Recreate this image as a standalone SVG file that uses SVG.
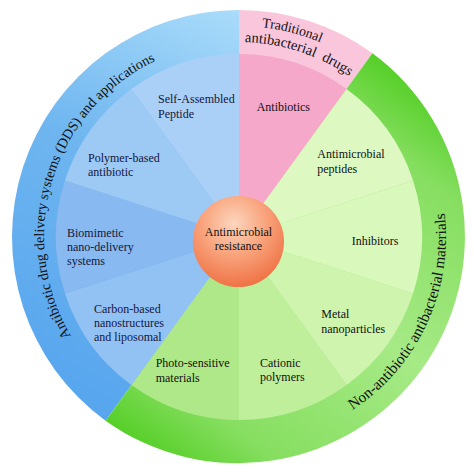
<svg xmlns="http://www.w3.org/2000/svg" xmlns:xlink="http://www.w3.org/1999/xlink" width="474" height="475" viewBox="0 0 474 475">
  <style>
    .lbl { font-family: "Liberation Serif", "Times New Roman", serif; font-size: 12px; fill: #111; }
    .blbl { font-family: "Liberation Serif", "Times New Roman", serif; font-size: 12px; fill: #16163a; }
    .arc { font-family: "Liberation Serif", "Times New Roman", serif; fill: #111; }
    .arcB { font-family: "Liberation Serif", "Times New Roman", serif; fill: #111; font-size: 14.2px; }
    .arcG { font-family: "Liberation Serif", "Times New Roman", serif; fill: #111; font-size: 15.3px; }
    .ctr { font-family: "Liberation Serif", "Times New Roman", serif; font-size: 12px; fill: #111; text-anchor: middle; }
  </style>
  <defs>
    <linearGradient id="gBlue" gradientUnits="userSpaceOnUse" x1="239" y1="10" x2="60" y2="380">
      <stop offset="0" stop-color="#aadcfa"/>
      <stop offset="0.45" stop-color="#6fb6f0"/>
      <stop offset="1" stop-color="#58a6ee"/>
    </linearGradient>
    <linearGradient id="gGreen" gradientUnits="userSpaceOnUse" x1="372" y1="53" x2="106" y2="421">
      <stop offset="0" stop-color="#56cf28"/>
      <stop offset="0.15" stop-color="#86de60"/>
      <stop offset="0.5" stop-color="#a6ea86"/>
      <stop offset="0.85" stop-color="#86de60"/>
      <stop offset="1" stop-color="#56cf28"/>
    </linearGradient>
    <radialGradient id="gCenter" cx="0.45" cy="0.3" r="0.75">
      <stop offset="0" stop-color="#fcd6bf"/>
      <stop offset="0.45" stop-color="#f9a57e"/>
      <stop offset="1" stop-color="#ee6c3e"/>
    </radialGradient>
    <path id="pBlue" d="M 71.0 335.96 A 195 195 0 0 1 155.05 61.0" fill="none"/>
    <path id="pGreen" d="M 352.6 410.0 A 207 207 0 0 0 444.5 212.1" fill="none"/>
    <path id="pTrad" d="M 261.8 27.2 A 211 211 0 0 1 320.8 42.5" fill="none"/>
    <path id="pAnti" d="M 244.8 42.1 A 195 195 0 0 1 352.2 78.25" fill="none"/>
  </defs>

  <!-- Outer ring -->
  <g id="ring-dds">
    <path d="M 105.57 420.64 A 227 227 0 0 1 239 10 L 239 237 Z" fill="url(#gBlue)"/>
    <text class="arcB"><textPath xlink:href="#pBlue" href="#pBlue" startOffset="0">Antibiotic</textPath></text>
    <text class="arcB"><textPath xlink:href="#pBlue" href="#pBlue" startOffset="61.1">drug</textPath></text>
    <text class="arcB"><textPath xlink:href="#pBlue" href="#pBlue" startOffset="90.7">delivery</textPath></text>
    <text class="arcB"><textPath xlink:href="#pBlue" href="#pBlue" startOffset="140.8">systems</textPath></text>
    <text class="arcB"><textPath xlink:href="#pBlue" href="#pBlue" startOffset="189.3">(DDS)</textPath></text>
    <text class="arcB"><textPath xlink:href="#pBlue" href="#pBlue" startOffset="230.7">and</textPath></text>
    <text class="arcB"><textPath xlink:href="#pBlue" href="#pBlue" startOffset="254.8">applications</textPath></text>
  </g>
  <g id="ring-traditional">
    <path d="M 239 10 A 227 227 0 0 1 372.43 53.36 L 239 237 Z" fill="#f9c6dc"/>
    <text class="arc" font-size="13.8"><textPath xlink:href="#pTrad" href="#pTrad">Traditional</textPath></text>
    <text class="arc" font-size="14.5"><textPath xlink:href="#pAnti" href="#pAnti" startOffset="0">antibacterial</textPath></text>
    <text class="arc" font-size="14.5"><textPath xlink:href="#pAnti" href="#pAnti" startOffset="79">drugs</textPath></text>
  </g>
  <g id="ring-nonantibiotic">
    <path d="M 372.43 53.36 A 227 227 0 0 1 105.57 420.64 L 239 237 Z" fill="url(#gGreen)"/>
    <text class="arcG"><textPath xlink:href="#pGreen" href="#pGreen" startOffset="0">Non-antibiotic</textPath></text>
    <text class="arcG"><textPath xlink:href="#pGreen" href="#pGreen" startOffset="93.1">antibacterial</textPath></text>
    <text class="arcG"><textPath xlink:href="#pGreen" href="#pGreen" startOffset="172.5">materials</textPath></text>
  </g>

  <!-- Inner sectors -->
  <g id="antibiotics">
    <path d="M 239 237 L 239 54 A 183 183 0 0 1 346.57 88.95 Z" fill="#f5a8c9"/>
    <text class="lbl" x="256.7" y="111">Antibiotics</text>
  </g>
  <g id="antimicrobial-peptides">
    <path d="M 239 237 L 346.57 88.95 A 183 183 0 0 1 413.05 180.45 Z" fill="#ddf9c1"/>
    <text class="lbl" x="317.3" y="158.3">Antimicrobial</text>
    <text class="lbl" x="317.3" y="172.7">peptides</text>
  </g>
  <g id="inhibitors">
    <path d="M 239 237 L 413.05 180.45 A 183 183 0 0 1 413.05 293.55 Z" fill="#d9f8bb"/>
    <text class="lbl" x="351.7" y="245">Inhibitors</text>
  </g>
  <g id="metal-nanoparticles">
    <path d="M 239 237 L 413.05 293.55 A 183 183 0 0 1 346.57 385.05 Z" fill="#cff4ae"/>
    <text class="lbl" x="321.3" y="318.3">Metal</text>
    <text class="lbl" x="321.3" y="333.3">nanoparticles</text>
  </g>
  <g id="cationic-polymers">
    <path d="M 239 237 L 346.57 385.05 A 183 183 0 0 1 239 420 Z" fill="#bfef9b"/>
    <text class="lbl" x="260" y="367.3">Cationic</text>
    <text class="lbl" x="260" y="381.3">polymers</text>
  </g>
  <g id="photo-sensitive">
    <path d="M 239 237 L 239 420 A 183 183 0 0 1 131.43 385.05 Z" fill="#afe888"/>
    <text class="lbl" x="155.7" y="367">Photo-sensitive</text>
    <text class="lbl" x="155.7" y="381.7">materials</text>
  </g>
  <g id="carbon-based">
    <path d="M 239 237 L 131.43 385.05 A 183 183 0 0 1 64.95 293.55 Z" fill="#92c2f4"/>
    <text class="blbl" x="94" y="312.7">Carbon-based</text>
    <text class="blbl" x="94" y="327.3">nanostructures</text>
    <text class="blbl" x="94" y="341.3">and liposomal</text>
  </g>
  <g id="biomimetic">
    <path d="M 239 237 L 64.95 293.55 A 183 183 0 0 1 64.95 180.45 Z" fill="#88b9f0"/>
    <text class="blbl" x="67" y="236.5">Biomimetic</text>
    <text class="blbl" x="67" y="250.5">nano-delivery</text>
    <text class="blbl" x="67" y="264.5">systems</text>
  </g>
  <g id="polymer-based">
    <path d="M 239 237 L 64.95 180.45 A 183 183 0 0 1 131.43 88.95 Z" fill="#9dc9f5"/>
    <text class="blbl" x="88" y="161.7">Polymer-based</text>
    <text class="blbl" x="88" y="176">antibiotic</text>
  </g>
  <g id="self-assembled">
    <path d="M 239 237 L 131.43 88.95 A 183 183 0 0 1 239 54 Z" fill="#abd0f7"/>
    <text class="blbl" x="158" y="103.3">Self-Assembled</text>
    <text class="blbl" x="158" y="117.5">Peptide</text>
  </g>

  <!-- Center -->
  <g id="antimicrobial-resistance">
    <circle cx="238.4" cy="241.5" r="45.6" fill="url(#gCenter)"/>
    <text class="ctr" x="238.5" y="236">Antimicrobial</text>
    <text class="ctr" x="238.5" y="250">resistance</text>
  </g>
</svg>
